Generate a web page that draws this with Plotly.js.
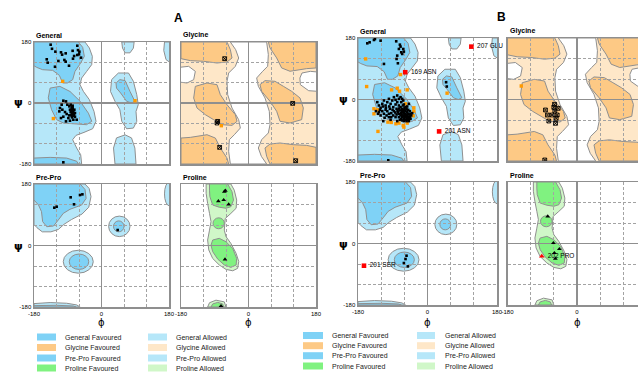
<!DOCTYPE html>
<html><head><meta charset="utf-8">
<script src="https://cdn.plot.ly/plotly-3.0.1.min.js"></script>
<style>html,body{margin:0;padding:0;background:#fff}#chart{width:638px;height:373px}</style>
</head><body><div id="chart"></div>
<script>
// ================= DATA =================
const tickVals = [-180,-120,-60,0,60,120,180];
const tickText = ['-180','','','0','','','180'];
const panelTitles = ['General','Glycine','Pre-Pro','Proline'];
const figureLetters = ['A','B'];
const legendCol1 = ['General Favoured','Glycine Favoured','Pre-Pro Favoured','Proline Favoured'];
const legendCol2 = ['General Allowed','Glycine Allowed','Pre-Pro Allowed','Proline Allowed'];

// ---- region polygons [phi, psi] ----
const generalAllowed = [
 [[-180,180],[-44,180],[-32.4,162.3],[-24.4,137.7],[-26.2,113.1],[-39.5,93.4],[-52.9,73.7],[-57.3,54],[-48.4,34.4],[-32.4,9.8],[-20,-24.7],[-14.6,-54.2],[-23.5,-75.8],[-46.6,-86.7],[-68,-95.5],[-76.9,-108.3],[-66.2,-132.9],[-55.5,-152.6],[-52.9,-180],[-180,-180]],
 [[27,69],[45,88.5],[72,88.5],[85,64],[94,24.5],[98,-5],[92,-25],[94,-54],[85,-74],[67,-76],[54,-54],[49,-20],[36,5],[24,34]],
 [[36,-180],[32,-133],[40,-103],[63,-94],[80,-103],[89,-133],[92,-180]],
 [[54,180],[87,180],[85,162],[76,148],[63,148],[56,162]],
 [[168,180],[185,180],[185,118],[172,128],[166,155]]
];
const generalFavoured = [
 [[-180,180],[-61.8,180],[-50.2,164.3],[-45.8,137.7],[-57.3,115.1],[-70.7,93.4],[-76.9,68.8],[-91.1,59],[-103.5,59],[-112.4,81.6],[-130.2,96.4],[-156.9,98.3],[-172.9,105.2],[-180,110]],
 [[-137,44],[-111,49],[-84,34],[-57,5],[-35,-30],[-26,-54],[-40,-64],[-66,-62],[-102,-59],[-120,-49],[-133,-20],[-142,15]],
 [[38.7,59],[49,69],[63,66],[76,34],[89,5],[80,0],[67,5],[51,29.5],[40,44]],
 [[-180,-162.5],[-137,-160.5],[-93,-162.5],[-66,-172],[-62,-180],[-180,-180]]
];
const glycineHoles = [
 [[-48.4,180],[-34.2,157.4],[-26.2,132.8],[-35.1,108.2],[-52.9,88.5],[-57.3,63.9],[-55.5,24.5],[-44,-14.8],[-26.2,-49.3],[-21.8,-73.9],[-37.8,-93.6],[-51.1,-108.3],[-52.9,-142.8],[-48.4,-180],
  [48.4,-180],[34.2,-157.4],[26.2,-132.8],[35.1,-108.2],[52.9,-88.5],[57.3,-63.9],[55.5,-24.5],[44,14.8],[26.2,49.3],[21.8,73.9],[37.8,93.6],[51.1,108.3],[52.9,142.8],[48.4,180]],
 [[-185,105.2],[-159.6,108.2],[-141.8,93.4],[-146.2,68.8],[-164,59],[-185,61.9]],
 [[142.7,88.5],[164.9,93.4],[185,91.4],[185,34.4],[160.5,36.3],[138.3,54],[137,73.7]]
];
const glycineFavoured = [
 [[-180,180],[-57.3,180],[-48.4,157.4],[-44,132.8],[-57.3,121],[-84,118],[-119.5,123],[-155,125],[-180,130.8]],
 [[-141.8,49.1],[-110.7,59],[-84,54],[-75.1,24.5],[-57.3,-5],[-35.1,-34.5],[-30.6,-54.2],[-44,-66],[-70.7,-64],[-92.9,-49.3],[-115.1,-34.5],[-137.3,-14.8],[-146.2,14.7]],
 [[-180,-103.4],[-155.1,-101.4],[-110.7,-93.6],[-88.4,-103.4],[-75.1,-132.9],[-57.3,-162.4],[-52.9,-180],[-180,-180]],
 [[180,-180],[57.3,-180],[48.4,-157.4],[44,-132.8],[57.3,-121],[84,-118],[119.5,-123],[155,-125],[180,-130.8]],
 [[141.8,-49.1],[110.7,-59],[84,-54],[75.1,-24.5],[57.3,5],[35.1,34.5],[30.6,54.2],[44,66],[70.7,64],[92.9,49.3],[115.1,34.5],[137.3,14.8],[146.2,-14.7]],
 [[180,103.4],[155.1,101.4],[110.7,93.6],[88.4,103.4],[75.1,132.9],[57.3,162.4],[52.9,180],[180,180]]
];
const preproAllowed = [
 [[-180,180],[-44,180],[-33,167],[-28,143],[-34,112],[-52,92],[-80,76],[-100,62],[-115,47],[-135,40],[-158,40],[-172,52],[-180,62]],
 [[-180,-180],[-180,-170],[-137,-167],[-93,-169],[-66,-174],[-57,-180]]
];
const preproFavoured = [
 [[-180,180],[-57,180],[-44,164],[-41,138],[-53,118.5],[-84,106],[-102,94],[-115,75],[-128,57],[-146,55],[-157,70],[-160,99],[-168,118.5],[-180,133]],
 [[-180,-180],[-180,-176],[-120,-175],[-75,-177],[-68,-180]]
];
// ellipses [phiMin, psiMin, phiMax, psiMax]
const preproAllowedEllipses = [[-102,-81,-22,-14],[19,26,76,86],[168,116,194,186]];
const preproFavouredEllipses = [[-86,-70,-34,-25],[32,40,60,72]];
const prolineAllowed = [
 [[-113,180],[-47,180],[-38,162],[-31.5,133],[-33,109],[-47,94],[-62,79],[-64.5,45],[-60,26],[-47,6],[-33,-23],[-26,-47],[-29,-67],[-42,-74],[-60,-70],[-78,-57],[-95.5,-38],[-106,-13],[-109,16],[-104,45],[-100,70],[-104,94],[-109,123],[-113,153]],
 [[-109,-180],[-104,-167.5],[-86.7,-160],[-64.5,-165],[-60,-180]]
];
const prolineFavoured = [
 [[-104,180],[-55.5,180],[-44,157.5],[-40,133],[-47,113.6],[-60,109],[-78,112],[-95.5,118.5],[-103,143],[-104,162]],
 [[-95.5,16],[-78,21],[-60,11],[-42,-9],[-31.5,-38],[-33,-57],[-47,-64],[-64.5,-57],[-82,-40],[-95.5,-18],[-100,1]],
 [[-100,-180],[-95.5,-171],[-82,-166.5],[-69,-171],[-66,-180]]
];
const prolineFavouredEllipses = [[-94.5,49,-64.5,81]];

// ---- residues, panel A ----
const aGenPhi = [-135.6,-132,-123,-108,-105,-95.5,-77,-64.5,-62.7,-60,-64.5,-54.6,-76,-99,-115,-146,-143.5,-86.7,-124,-95.5,-73,-59,
 -101.8,-94.7,-106.2,-110.7,-112.4,-104.4,-91.1,-85.8,-82.2,-79.5,-76.9,-84,-79.5,-75.1,-82.2,-77.8,-73.3,-80.4,-75.1,-85.8,-92.9,-97.3,-70.7,-78.7,-88.4,-101.8,-66.2,-75.1,-94.7,-108,-84,-76.9,-72.4,-70.7,-78,-76,-80,-74,-79,-77,-101.8];
const aGenPsi = [172,160,151.5,149.5,142.6,146.5,154,169,156,143.6,141.6,133.8,130.8,127,124,129,119,110,107,122,138.7,151.5,
 6.8,4.8,-5,-14.8,-24.7,-19.8,-5,-9.9,-5,-12.9,-16.8,-19.8,-22.7,-24.7,-26.6,-29.6,-32.5,-34.5,-37.5,-36.5,-32.5,-26.6,-40.4,-42.4,-44.4,-40.4,-49.3,-49.3,-54.2,-44.4,-52.2,-8,-19.8,-29.6,-26,-31,-20,-36,-38,-15,-175];
const aGenOrangePhi = [-103.5,-128.4,89.4];
const aGenOrangePsi = [64,-46,6.8];
const aGlyPhi = [-63.5,-82.2,-84,-76.9,117.8,125.8];
const aGlyPsi = [130.8,-54.2,-59.1,-130.9,-1,-170.3];
const aGlyOrangePhi = [-72.4];
const aGlyOrangePsi = [-67];
const aPreProPhi = [-82.2,-57.3,-51,-73.3,-125.8,-119.6,43.1];
const aPreProPsi = [141,147.8,149.7,120.5,110.7,113.6,45.3];
const aProPhi = [-64.4,-61.8,-80.4,-66.2,-52.9,-62.7,-73.3];
const aProPsi = [157.5,160.5,130,133,120.5,-40.6,-177];

// ---- residues, panel B ----
const bGenPhi = [-155.9,-149.9,-138.7,-136.1,-121.5,-81,-74.1,-69.8,-62.9,-68.1,-65.5,-61.2,-78.4,-80.1,-112.8,-76.7,-71.5,
 -130.1,-125.8,-121.5,-117.1,-112.8,-108.5,-104.2,-99.9,-95.6,-91.3,-87,-82.7,-78.4,-74.1,-69.8,-82.7,-78.4,-88.7,-97.3,-104.2,-112.8,-108.5,-117.1,-99.9,-93.9,-87,-80.1,-74.1,-68.1,-62.9,-61.2,-56.9,
 -69.8,-65.5,-61.2,-56.9,-52.6,-65.5,-61.2,-56.9,-52.6,-48.3,-71.5,-68.1,-62.9,-59.5,-54.3,-50.8,-74.1,-69.8,-65.5,-61.2,-56.9,-52.6,-48.3,-45.7,-44,-50,-54.3,-59.5,-63.8,-76.7,-80.1,-74.1,-68.1,-48.3,-54.3,-61.2,-44,-42.2,-65.5,-71.5,-82.7,-88.7,-93.9,-99.9,-106,-111.1,-121.5,-125.8,-114.6,-95.6,-78.4,-39.7,-45.7,-56.9,-62.9,-67.2,-58.6,-50.8,-55.2,-46.5,-59.5,-64.6,-51.7,-73.2,-77.5,-83.6,-90.5,-99.1,-107.7,-115.4,-123.2,-128.3,-133.5,-52.6,-48.3,-65.5,
 48.2,49.9,-101.6];
const bGenPsi = [164.4,167.4,174.2,177.1,172.2,170.3,147.9,154.7,147.9,138.2,133.3,140.1,128.4,118.7,104.1,106,160.5,
 -7.8,-17.5,-24.3,-12.7,-2.9,-17.5,-7.8,1.9,-12.7,-2.9,6.8,-1,11.7,1.9,6.8,-14.6,-7.8,-22.4,-27.2,-34.1,-41.8,-30.2,-34.1,-41.8,-39.9,-34.1,-27.2,-17.5,-7.8,-2.9,-14.6,-22.4,
 -22.4,-27.2,-30.2,-34.1,-37,-34.1,-39.9,-41.8,-46.7,-43.8,-32.1,-39.9,-46.7,-51.6,-53.5,-51.6,-41.8,-46.7,-51.6,-56.4,-59.4,-59.4,-56.4,-49.6,-41.8,-30.2,-27.2,-24.3,-17.5,-37,-43.8,-51.6,-56.4,-63.3,-63.3,-63.3,-56.4,-46.7,-61.3,-59.4,-51.6,-46.7,-51.6,-51.6,-46.7,-53.5,-46.7,-37,-63.3,-59.4,-63.3,-39.9,-34.1,-46.7,-37,-43.8,-32.1,-41.8,-49.6,-53.5,-45.7,-49.6,-56.4,-26.3,-32.1,-38,-30.2,-20.4,-24.3,-20.4,-30.2,-41.8,-34.1,-20.4,-12.7,1.9,
 50.6,38,-178];
const bGenOrangePhi = [-160.2,-69.8,-157.6,-93,-78.4,-72.4,-52.6,-56.9,-138.7,-130.1,-138.7,-35.4,-37.1,-102.5,-93.9,-81.8,-74.1,-62.9,-61.2,-52.6,-128.3,-35.4,50.7];
const bGenOrangePsi = [118.7,73,37.9,28.2,33.1,24.3,28.2,-12.7,-27.2,-30.2,-41.8,-34.1,-47.7,-66.2,-67.1,-71,-69.1,-75.9,-80.8,-69.1,-93.4,-24.3,18.5];
const bGenOutlierPhi = [-57.7,113.6,30.1];
const bGenOutlierPsi = [79.8,154.7,-93.4];
const bGenOutlierLabels = ['169 ASN','207 GLU','201 ASN'];
const bGlyPhi = [-58.2,-60,-51.3,-64.4,-54,-73,-81.7,-57.4,-48.8,-55.6,-76.5,-83.5];
const bGlyPsi = [-14,-22.8,-45.4,-45.4,-55,-63,-30.7,-33.7,-25.8,-69.7,-45.4,-177];
const bGlyOrangePhi = [-144.3];
const bGlyOrangePsi = [39.5];
const bPreProPhi = [-54.3,-56.9,-61.2,-50.9];
const bPreProPsi = [-35.7,-45.5,-57.2,-67];
const bPreProOutlierPhi = [-164.5];
const bPreProOutlierPsi = [-65];
const bPreProOutlierLabels = ['201 SER'];
const bProPhi = [-75.8,-61.2,-45.7,-58.6,-56];
const bProPsi = [79.5,1.4,-16.2,-27.9,-44.5];
const bProOutlierPhi = [-91.3];
const bProOutlierPsi = [-37.6];
const bProOutlierLabels = ['202 PRO'];

// ================= STYLE / LAYOUT =================
const W = 638, H = 373;
const C = {
  genFav:'#7fd2f6', genAll:'#b6e7f9', glyFav:'#fdc985', glyAll:'#fee7c8',
  proFav:'#80f280', proAll:'#d0f7c8', edge:'#8f8f8f', grid:'#a3a3a3'
};
const FONT = 'Liberation Sans, Arial, sans-serif';
const fx = v => v / W, fy = v => 1 - v / H;
const PANEL_W = 139;

const panels = [
  {kind:'general', x:[34,169],   y:[42,164],  sx:false, sy:true,  cut:false},
  {kind:'glycine', x:[181,316],  y:[42,164],  sx:false, sy:false, cut:false},
  {kind:'prepro',  x:[34,169],   y:[184,307], sx:true,  sy:true,  cut:false},
  {kind:'proline', x:[181,316],  y:[184,307], sx:true,  sy:false, cut:false},
  {kind:'general', x:[358,497],  y:[38,161],  sx:false, sy:true,  cut:false},
  {kind:'glycine', x:[507.5,638],y:[38,161],  sx:false, sy:false, cut:true},
  {kind:'prepro',  x:[358,497],  y:[182,305], sx:true,  sy:true,  cut:false},
  {kind:'proline', x:[507.5,638],y:[182,305], sx:true,  sy:false, cut:true}
];

const layout = {
  width: W, height: H, margin:{l:0,r:0,t:0,b:0},
  paper_bgcolor:'#fff', plot_bgcolor:'#fff', showlegend:false,
  font:{family:FONT, size:7, color:'#000'},
  shapes:[], annotations:[]
};
const traces = [];

function pathOf(poly){ return 'M' + poly.map(p => p[0] + ',' + p[1]).join('L') + 'Z'; }

panels.forEach((p, i) => {
  const n = i === 0 ? '' : String(i + 1);
  // visible part of a panel cut by the page edge keeps the same degrees-per-pixel scale
  const xr = p.cut ? -180 + (p.x[1] - p.x[0]) / PANEL_W * 360 : 180;
  const common = {
    showgrid:true, gridcolor:C.grid, gridwidth:1, griddash:'3px,2px',
    zeroline:true, zerolinecolor:C.edge, zerolinewidth:1.2,
    showline:true, linecolor:C.edge, linewidth:1.5,
    ticks:'', tickmode:'array', tickvals:tickVals, ticktext:tickText,
    tickfont:{size:6, family:FONT, color:'#000'}, fixedrange:true
  };
  layout['xaxis' + n] = Object.assign({}, common, {
    domain:[fx(p.x[0]), Math.min(1, fx(p.x[1]))], range:[-180, xr],
    anchor:'y' + n, showticklabels:p.sx, mirror:true
  });
  layout['yaxis' + n] = Object.assign({}, common, {
    domain:[fy(p.y[1]), fy(p.y[0])], range:[-180,180],
    anchor:'x' + n, showticklabels:p.sy, mirror:!p.cut
  });
  const xref = 'x' + n, yref = 'y' + n;
  const poly = (arr, fill) => arr.forEach(pg => layout.shapes.push({
    type:'path', path:pathOf(pg), xref, yref, layer:'below',
    fillcolor:fill, line:{color:C.edge, width:1}}));
  const ell = (arr, fill) => arr.forEach(e => layout.shapes.push({
    type:'circle', x0:e[0], y0:e[1], x1:e[2], y1:e[3], xref, yref, layer:'below',
    fillcolor:fill, line:{color:C.edge, width:1}}));
  if (p.kind === 'general') { poly(generalAllowed, C.genAll); poly(generalFavoured, C.genFav); }
  if (p.kind === 'glycine') {
    layout.shapes.push({type:'rect', x0:-180, x1:180, y0:-180, y1:180, xref, yref, layer:'below',
      fillcolor:C.glyAll, line:{width:0}});
    poly(glycineHoles, '#ffffff'); poly(glycineFavoured, C.glyFav);
  }
  if (p.kind === 'prepro') {
    poly(preproAllowed, C.genAll); ell(preproAllowedEllipses, C.genAll);
    poly(preproFavoured, C.genFav); ell(preproFavouredEllipses, C.genFav);
  }
  if (p.kind === 'proline') {
    poly(prolineAllowed, C.proAll); poly(prolineFavoured, C.proFav); ell(prolineFavouredEllipses, C.proFav);
  }
  layout.annotations.push({xref:'paper', yref:'paper', x:fx(p.x[0]), y:fy(p.y[0] - 6.5),
    xanchor:'left', yanchor:'middle', showarrow:false,
    text:'<b>' + panelTitles[i % 4] + '</b>', font:{size:7, family:FONT, color:'#000'}});
});

// markers
const MK = {
  black:{symbol:'square', size:2.6, color:'#000'},
  orange:{symbol:'square', size:3.4, color:'#ff9a00'},
  red:{symbol:'square', size:4.6, color:'#ff0000'},
  gly:{symbol:'square-x-open', size:3.8, color:'#000', line:{width:0.9}},
  tri:{symbol:'triangle-up', size:4.2, color:'#000'},
  redTri:{symbol:'triangle-up', size:5, color:'#ff0000'}
};
function addPts(n, phi, psi, mk, labels){
  const t = {type:'scatter', mode: labels ? 'markers+text' : 'markers', x:phi, y:psi,
    xaxis:'x' + n, yaxis:'y' + n, marker:mk, hoverinfo:'skip', cliponaxis:true};
  if (labels) { t.text = labels.map(s => ' ' + s); t.textposition = 'middle right';
    t.textfont = {size:6.5, family:FONT, color:'#000'}; t.cliponaxis = false; }
  traces.push(t);
}
addPts('', aGenPhi, aGenPsi, MK.black);
addPts('', aGenOrangePhi, aGenOrangePsi, MK.orange);
addPts('2', aGlyPhi, aGlyPsi, MK.gly);
addPts('2', aGlyOrangePhi, aGlyOrangePsi, MK.orange);
addPts('3', aPreProPhi, aPreProPsi, MK.black);
addPts('4', aProPhi, aProPsi, MK.tri);
addPts('5', bGenOrangePhi, bGenOrangePsi, MK.orange);
addPts('5', bGenPhi, bGenPsi, MK.black);
addPts('5', bGenOutlierPhi, bGenOutlierPsi, MK.red, bGenOutlierLabels);
addPts('6', bGlyPhi, bGlyPsi, MK.gly);
addPts('6', bGlyOrangePhi, bGlyOrangePsi, MK.orange);
addPts('7', bPreProPhi, bPreProPsi, MK.black);
addPts('7', bPreProOutlierPhi, bPreProOutlierPsi, MK.red, bPreProOutlierLabels);
addPts('8', bProPhi, bProPsi, MK.tri);
addPts('8', bProOutlierPhi, bProOutlierPsi, MK.redTri, bProOutlierLabels);

// letters, axis symbols
const ann = (x, y, text, size, extra) => layout.annotations.push(Object.assign({
  xref:'paper', yref:'paper', x:fx(x), y:fy(y), xanchor:'center', yanchor:'middle',
  showarrow:false, text, font:{size, family:FONT, color:'#000'}}, extra || {}));
ann(178, 18, '<b>' + figureLetters[0] + '</b>', 12);
ann(501.5, 17, '<b>' + figureLetters[1] + '</b>', 12);
[[18,103],[18,246],[343,100],[343,244]].forEach(q => ann(q[0], q[1], '<b>ψ</b>', 11, {font:{size:11, family:'DejaVu Sans', color:'#000'}}));
[[101.5,322],[248.5,322],[427.5,322],[577,322]].forEach(q => ann(q[0], q[1], 'ϕ', 10, {font:{size:10, family:'DejaVu Sans', color:'#000'}}));

// legends
const legendSets = [
  {c1:[37,56,63], c2:[148,167,174], rows:[337,347.5,358,368]},
  {c1:[303,323,330], c2:[417,435,443], rows:[335.5,345.7,355.7,366]}
];
const favCols = [C.genFav, C.glyFav, C.genFav, C.proFav];
const allCols = [C.genAll, C.glyAll, C.genAll, C.proAll];
legendSets.forEach(L => {
  L.rows.forEach((ry, k) => {
    [[L.c1, favCols[k], legendCol1[k]], [L.c2, allCols[k], legendCol2[k]]].forEach(([c, col, label]) => {
      layout.shapes.push({type:'rect', xref:'paper', yref:'paper', x0:fx(c[0]), x1:fx(c[1]),
        y0:fy(ry + 3.5), y1:fy(ry - 3.5), fillcolor:col, line:{width:0}});
      ann(c[2], ry, label, 7, {xanchor:'left', font:{size:7, family:FONT, color:'#222'}});
    });
  });
});

Plotly.newPlot('chart', traces, layout, {staticPlot:true, displayModeBar:false});
</script>
</body></html>
